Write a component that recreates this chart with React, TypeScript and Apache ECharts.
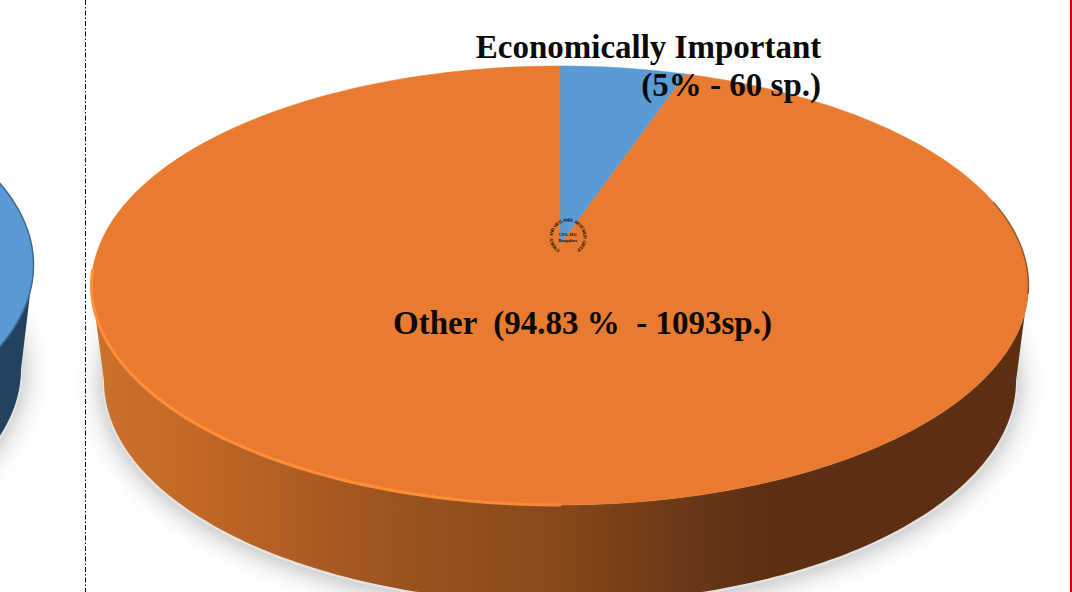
import React, { useEffect, useRef } from "react";
import * as echarts from "echarts";

const W = 1072;
const H = 592;

// Data
const mainCategories = ["Economically Important", "Other"];
const mainValues = [60, 1093];
const mainColors = ["#5B9BD5", "#E97B30"];
const leftCategories = ["Neighbouring pie"];
const leftValues = [100];
const leftColors = ["#5B9BD5"];

const labelLines = ["Economically Important", "(5% - 60 sp.)", "Other  (94.83 %  - 1093sp.)"];
const logoRing = "ENERGY AND WETLANDS RESEARCH GROUP";
const logoCentre = ["CES, IISc", "Bangalore"];

type Disc = { cx: number; cy: number; rx: number; ry: number; k: number };
const K = 0.1845;
const mainTop: Disc = { cx: 560, cy: 285.5, rx: 468.5, ry: 219.5, k: K };
const mainBase: Disc = { cx: 560, cy: 381, rx: 456, ry: 222, k: K };
const leftTop: Disc = { cx: -435, cy: 265, rx: 468.5, ry: 219.5, k: K };
const leftBase: Disc = { cx: -435, cy: 369, rx: 456, ry: 222, k: K };

// theta in degrees, clockwise from the top of the disc; perspective projection of a unit circle
function project(d: Disc, deg: number): number[] {
  const t = (deg * Math.PI) / 180;
  const u = Math.sin(t);
  const v = Math.cos(t);
  const q = 1 - d.k * d.k;
  const a = d.rx * Math.sqrt(q);
  const b = d.ry * q;
  const y0 = d.cy - d.ry * d.k;
  const w = 1 + d.k * v;
  return [d.cx + (a * u) / w, y0 - (b * v) / w];
}
function apex(d: Disc): number[] {
  return [d.cx, d.cy - d.ry * d.k];
}
function arc(d: Disc, from: number, to: number): number[][] {
  const n = Math.max(2, Math.ceil(Math.abs(to - from)));
  const out: number[][] = [];
  for (let i = 0; i <= n; i++) out.push(project(d, from + ((to - from) * i) / n));
  return out;
}
function sliceRange(values: number[], i: number): number[] {
  const total = values.reduce((s, v) => s + v, 0);
  const before = values.slice(0, i).reduce((s, v) => s + v, 0);
  return [(before / total) * 360, ((before + values[i]) / total) * 360];
}

const FRONT_A = (Math.acos(-K) * 180) / Math.PI;
const FRONT_B = 360 - FRONT_A;

function topSeries(name: string, d: Disc, values: number[], colors: string[], cats: string[], z: number) {
  return {
    type: "custom",
    name,
    coordinateSystem: "none",
    silent: true,
    z,
    data: values.map((v, i) => ({ name: cats[i], value: [v] })),
    renderItem: (p: any) => {
      const [a, b] = sliceRange(values, p.dataIndex);
      const full = b - a >= 360;
      const pts = full ? arc(d, a, b) : [apex(d), ...arc(d, a, b)];
      return {
        type: "polygon",
        shape: { points: pts },
        style: { fill: colors[p.dataIndex], stroke: colors[p.dataIndex], lineWidth: 0.5 },
      };
    },
  };
}

function wallSeries(name: string, t: Disc, base: Disc, values: number[], fill: any[], z: number) {
  return {
    type: "custom",
    name,
    coordinateSystem: "none",
    silent: true,
    z,
    data: values.map((v) => [v]),
    renderItem: (p: any) => {
      const [a, b] = sliceRange(values, p.dataIndex);
      const from = Math.max(a, FRONT_A);
      const to = Math.min(b, FRONT_B);
      if (to <= from) return null;
      const pts = [...arc(t, from, to), ...arc(base, to, from)];
      return { type: "polygon", shape: { points: pts }, style: { fill: fill[p.dataIndex] } };
    },
  };
}

function shadowSeries(name: string, base: Disc, z: number) {
  return {
    type: "custom",
    name,
    coordinateSystem: "none",
    silent: true,
    z,
    data: [[1]],
    renderItem: () => ({
      type: "polygon",
      shape: { points: arc({ ...base, rx: base.rx + 1, ry: base.ry + 1, cy: base.cy + 1 }, 0, 360) },
      style: {
        fill: "#e2e2e2",
        shadowBlur: 28,
        shadowColor: "rgba(0,0,0,0.32)",
        shadowOffsetX: 0,
        shadowOffsetY: 2,
      },
    }),
  };
}

function lineSeries(name: string, d: Disc, from: number, to: number, stroke: any, width: number, z: number) {
  return {
    type: "custom",
    name,
    coordinateSystem: "none",
    silent: true,
    z,
    data: [[1]],
    renderItem: () => ({
      type: "polyline",
      shape: { points: arc(d, from, to) },
      style: { fill: "none", stroke, lineWidth: width, lineCap: "round" },
    }),
  };
}

export default function App() {
  const ref = useRef<HTMLDivElement>(null);
  useEffect(() => {
    document.body.style.margin = "0";
    document.body.style.overflow = "hidden";
    const chart = echarts.init(ref.current!, undefined, { renderer: "svg", width: W, height: H });

    const wallGrad = new echarts.graphic.LinearGradient(
      92, 0, 1029, 0,
      [
        { offset: 0, color: "#CB722C" },
        { offset: 0.1, color: "#C46827" },
        { offset: 0.33, color: "#9A531F" },
        { offset: 0.5, color: "#874819" },
        { offset: 0.65, color: "#663618" },
        { offset: 0.72, color: "#5C2F12" },
        { offset: 1, color: "#5C2F12" },
      ],
      true
    );
    const rimGrad = new echarts.graphic.LinearGradient(
      92, 0, 1029, 0,
      [
        { offset: 0, color: "#FF8E38" },
        { offset: 0.38, color: "#FF8E38" },
        { offset: 0.5, color: "#F5863A" },
        { offset: 0.6, color: "#E97B30" },
        { offset: 1, color: "#E97B30" },
      ],
      true
    );

    const ringCx = 568;
    const ringCy = 237;
    const ringR = 17;
    const ringStart = -142;
    const ringEnd = 142;
    const chars = logoRing.split("");
    const ringEls: any[] = chars
      .map((c, i) => {
        if (c === " ") return null;
        const phi = ringStart + ((ringEnd - ringStart) * i) / (chars.length - 1);
        const r = (phi * Math.PI) / 180;
        return {
          type: "text",
          z: 20,
          x: ringCx + ringR * Math.sin(r),
          y: ringCy - ringR * Math.cos(r),
          rotation: -r,
          style: {
            text: c,
            fill: "#140d05",
            font: "bold 4.6px 'Liberation Serif'",
            align: "center",
            verticalAlign: "middle",
          },
        };
      })
      .filter(Boolean);

    const serif = "bold 33px 'Liberation Serif'";
    const graphicEls: any[] = [
      {
        type: "line",
        z: 1,
        shape: { x1: 85.5, y1: 0, x2: 85.5, y2: H },
        style: { stroke: "#000", lineWidth: 1, lineDash: [5, 2, 1.5, 2] },
      },
      { type: "rect", z: 1, shape: { x: 1070, y: 0, width: 2, height: H }, style: { fill: "#C00000" } },
      {
        type: "text", z: 20, x: 648.5, y: 47,
        style: { text: labelLines[0], font: serif, fill: "#0a0a0a", align: "center", verticalAlign: "middle" },
      },
      {
        type: "text", z: 20, x: 821, y: 85,
        style: { text: labelLines[1], font: serif, fill: "#0a0a0a", align: "right", verticalAlign: "middle" },
      },
      {
        type: "text", z: 20, x: 582.5, y: 323,
        style: { text: labelLines[2], font: serif, fill: "#0a0a0a", align: "center", verticalAlign: "middle" },
      },
      {
        type: "text", z: 20, x: ringCx, y: ringCy - 3,
        style: { text: logoCentre[0], font: "bold 4.4px 'Liberation Serif'", fill: "#140d05", align: "center", verticalAlign: "middle" },
      },
      {
        type: "text", z: 20, x: ringCx, y: ringCy + 3,
        style: { text: logoCentre[1], font: "bold 4.4px 'Liberation Serif'", fill: "#140d05", align: "center", verticalAlign: "middle" },
      },
      ...ringEls,
    ];

    chart.setOption({
      animation: false,
      backgroundColor: "#ffffff",
      series: [
        shadowSeries("left shadow", leftBase, 2),
        wallSeries("left wall", leftTop, leftBase, leftValues, ["#22425F"], 3),
        topSeries("left pie", leftTop, leftValues, leftColors, leftCategories, 4),
        lineSeries("left edge", leftTop, 30, 125, "#3E6A90", 1.5, 5),
        shadowSeries("main shadow", mainBase, 2),
        wallSeries("main wall", mainTop, mainBase, mainValues, [wallGrad, wallGrad], 3),
        topSeries("main pie", mainTop, mainValues, mainColors, mainCategories, 4),
        lineSeries("main rim", mainTop, 180, FRONT_B + 4, rimGrad, 3, 5),
        lineSeries("main right edge", mainTop, 78, FRONT_A + 2, "rgba(110,60,25,0.7)", 1.5, 5),
      ],
      graphic: { elements: graphicEls },
    });
    return () => chart.dispose();
  }, []);
  return <div ref={ref} style={{ width: W, height: H, position: "fixed", left: 0, top: 0 }} />;
}
